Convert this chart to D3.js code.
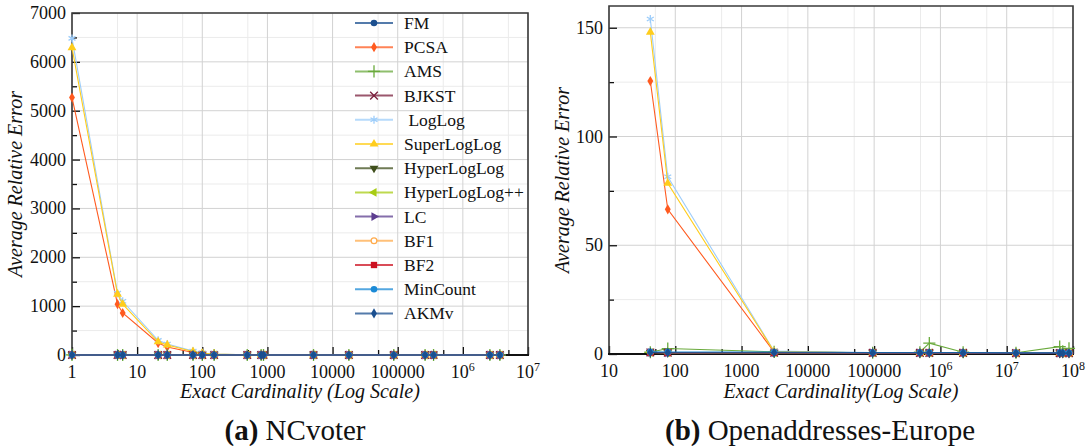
<!DOCTYPE html>
<html>
<head>
<meta charset="utf-8">
<script src="https://cdn.jsdelivr.net/npm/d3@7"></script>
<style>
  body { margin: 0; background: #fff; }
  text { font-family: "Liberation Serif", "Times New Roman", serif; fill: #111; }
</style>
</head>
<body>
<svg id="canvas" width="1091" height="446"></svg>
<script>

// ---- data: NCvoter (left) ----
var ncX        = [1, 5, 6, 21, 29, 72, 100, 152, 490, 800, 870, 5100, 17800, 87000, 263000, 355000, 2600000, 3700000];
var ncPCSA     = [5270, 1040, 860, 245, 165, 50, 25, 15, 4, 2, 2, 1, 1, 1, 1, 1, 1, 1];
var ncLogLog   = [6480, 1265, 1100, 300, 225, 80, 40, 22, 6, 3, 3, 1, 1, 1, 1, 1, 1, 1];
var ncSuperLL  = [6290, 1245, 1040, 270, 205, 70, 35, 18, 5, 3, 2, 1, 1, 1, 1, 1, 1, 1];
var ncSmall    = [1.5, 1.2, 1.1, 0.9, 0.8, 0.6, 0.5, 0.5, 0.4, 0.3, 0.3, 0.3, 0.2, 0.2, 0.2, 0.2, 0.1, 0.1];

// ---- data: Openaddresses-Europe (right) ----
var oaX        = [42, 77, 3100, 95000, 490000, 680000, 2200000, 13800000, 63000000, 70000000, 87000000];
var oaPCSA     = [125.5, 66.5, 0.9, 0.5, 0.5, 0.5, 0.4, 0.4, 0.3, 0.3, 0.3];
var oaLogLog   = [154, 81.5, 1.3, 0.6, 0.5, 0.5, 0.5, 0.4, 0.4, 0.4, 0.4];
var oaSuperLL  = [148, 78.5, 1.1, 0.5, 0.5, 0.5, 0.4, 0.4, 0.3, 0.3, 0.3];
var oaAMS      = [0.8, 2.5, 1.0, 0.6, 0.8, 5.0, 0.8, 0.6, 3.4, 1.2, 2.6];
var oaMinCount = [1.0, 0.9, 0.9, 0.7, 0.7, 0.7, 0.7, 0.6, 0.6, 0.6, 0.6];
var oaSmall    = [0.7, 0.6, 0.6, 0.5, 0.5, 0.5, 0.5, 0.4, 0.4, 0.4, 0.4];

var names  = ["FM", "PCSA", "AMS", "BJKST", " LogLog", "SuperLogLog", "HyperLogLog",
              "HyperLogLog++", "LC", "BF1", "BF2", "MinCount", "AKMv"];
var colors = ["#1b4f8f", "#ff5a1f", "#6aaa3c", "#7a1f3c", "#9dcdfa", "#ffcd1c", "#3f4f1c",
              "#a8cc14", "#5c3d8f", "#ffab4c", "#cc1020", "#1b8ad6", "#1b4f8f"];
var shapes = ["circle", "diamond", "plus", "times", "asterisk", "triUp", "triDown",
              "triLeft", "triRight", "ring", "square", "circle", "diamond"];

var ncSeries = [ncSmall, ncPCSA, ncSmall, ncSmall, ncLogLog, ncSuperLL, ncSmall,
                ncSmall, ncSmall, ncSmall, ncSmall, ncSmall, ncSmall];
var oaSeries = [oaSmall, oaPCSA, oaAMS, oaSmall, oaLogLog, oaSuperLL, oaSmall,
                oaSmall, oaSmall, oaSmall, oaSmall, oaMinCount, oaSmall];

var svg = d3.select("#canvas");

function marker(g, shape, color, x, y) {
  var sym, rot = 0, fill = color, stroke = "none", size = 34;
  if (shape == "circle") sym = d3.symbolCircle;
  if (shape == "ring") { sym = d3.symbolCircle; fill = "#fff"; stroke = color; size = 26; }
  if (shape == "diamond") { sym = d3.symbolDiamond; size = 30; }
  if (shape == "square") { sym = d3.symbolSquare; size = 40; }
  if (shape == "plus") { sym = d3.symbolPlus; fill = "none"; stroke = color; size = 50; }
  if (shape == "times") { sym = d3.symbolTimes; fill = "none"; stroke = color; size = 40; }
  if (shape == "asterisk") { sym = d3.symbolAsterisk; fill = "none"; stroke = color; size = 45; }
  if (shape.indexOf("tri") == 0) {
    sym = d3.symbolTriangle; size = 34;
    rot = {triUp: 0, triDown: 180, triLeft: -90, triRight: 90}[shape];
  }
  g.append("path")
    .attr("d", d3.symbol().type(sym).size(size)())
    .attr("transform", "translate(" + x + "," + y + ") rotate(" + rot + ")")
    .attr("fill", fill)
    .attr("stroke", stroke)
    .attr("stroke-width", stroke == "none" ? 0 : 1.3);
}

function supLabel(sel, exp) {
  if (exp <= 5) sel.text(String(Math.pow(10, exp)));
  else {
    sel.append("tspan").text("10");
    sel.append("tspan").attr("dy", -7).attr("font-size", 12).text(exp);
  }
}

function drawPanel(opt) {
  var x = d3.scaleLog().domain(opt.xDomain).range([opt.left, opt.right]);
  var y = d3.scaleLinear().domain(opt.yDomain).range([opt.bottom, opt.top]);
  var g = svg.append("g");

  var e0 = Math.round(Math.log10(opt.xDomain[0])), e1 = Math.round(Math.log10(opt.xDomain[1]));
  var xMajor = d3.range(e0, e1 + 1).map(function(e) { return Math.pow(10, e); });
  var xMinor = d3.range(e0, e1).map(function(e) { return 5 * Math.pow(10, e); });
  var yMajor = d3.range(opt.yDomain[0], opt.yDomain[1] + 1, opt.yStep);
  var yMinor = d3.range(opt.yDomain[0] + opt.yStep / 2, opt.yDomain[1], opt.yStep);

  // grid
  g.selectAll(".vminor").data(xMinor).enter().append("line")
    .attr("x1", x).attr("x2", x).attr("y1", opt.top).attr("y2", opt.bottom)
    .attr("stroke", "#ebebeb");
  g.selectAll(".hminor").data(yMinor).enter().append("line")
    .attr("y1", y).attr("y2", y).attr("x1", opt.left).attr("x2", opt.right)
    .attr("stroke", "#ebebeb");
  g.selectAll(".vmajor").data(xMajor).enter().append("line")
    .attr("x1", x).attr("x2", x).attr("y1", opt.top).attr("y2", opt.bottom)
    .attr("stroke", "#d2d2d2");
  g.selectAll(".hmajor").data(yMajor).enter().append("line")
    .attr("y1", y).attr("y2", y).attr("x1", opt.left).attr("x2", opt.right)
    .attr("stroke", "#d2d2d2");

  // inward ticks
  g.append("g").attr("transform", "translate(0," + opt.bottom + ")")
    .call(d3.axisBottom(x).tickValues(xMajor).tickSize(-8).tickFormat(""))
    .call(function(a) { a.select(".domain").remove(); });
  g.append("g").attr("transform", "translate(0," + opt.bottom + ")")
    .call(d3.axisBottom(x).tickValues(xMinor).tickSize(-5).tickFormat(""))
    .call(function(a) { a.select(".domain").remove(); });
  g.append("g").attr("transform", "translate(" + opt.left + ",0)")
    .call(d3.axisLeft(y).tickValues(yMajor).tickSize(-8).tickFormat(""))
    .call(function(a) { a.select(".domain").remove(); });
  g.append("g").attr("transform", "translate(" + opt.left + ",0)")
    .call(d3.axisLeft(y).tickValues(yMinor).tickSize(-5).tickFormat(""))
    .call(function(a) { a.select(".domain").remove(); });
  g.selectAll(".tick line").attr("stroke", "#111").attr("stroke-width", 1.3);

  // frame
  g.append("path")
    .attr("d", "M" + opt.left + "," + opt.bottom + "V" + opt.top + "H" + opt.right + "V" + opt.bottom)
    .attr("fill", "none").attr("stroke", "#3a3a3a").attr("stroke-width", 1.6);
  g.append("line")
    .attr("x1", opt.left - 1).attr("x2", opt.right + 1).attr("y1", opt.bottom).attr("y2", opt.bottom)
    .attr("stroke", "#111").attr("stroke-width", 2);

  // tick labels
  xMajor.forEach(function(v, i) {
    var t = g.append("text").attr("x", x(v)).attr("y", opt.bottom + 23)
      .attr("text-anchor", "middle").attr("font-size", 18);
    supLabel(t, e0 + i);
  });
  g.selectAll(".ylab").data(yMajor).enter().append("text")
    .attr("x", opt.left - 6).attr("y", function(d) { return y(d) + 6; })
    .attr("text-anchor", "end").attr("font-size", 18)
    .text(function(d) { return d; });

  // axis titles
  g.append("text").attr("x", (opt.left + opt.right) / 2).attr("y", 398)
    .attr("text-anchor", "middle").attr("font-size", 20).attr("font-style", "italic")
    .text(opt.xTitle);
  g.append("text")
    .attr("transform", "translate(" + opt.yTitleX + "," + ((opt.top + opt.bottom) / 2) + ") rotate(-90)")
    .attr("text-anchor", "middle").attr("font-size", 20).attr("font-style", "italic")
    .text("Average Relative Error");

  // series
  var line = d3.line().x(function(d) { return x(d[0]); }).y(function(d) { return y(d[1]); });
  opt.series.forEach(function(vals, s) {
    var pts = opt.xs.map(function(v, i) { return [v, vals[i]]; });
    g.append("path").datum(pts).attr("d", line)
      .attr("fill", "none").attr("stroke", colors[s]).attr("stroke-width", 1.1);
    pts.forEach(function(p) { marker(g, shapes[s], colors[s], x(p[0]), y(p[1])); });
  });

  // caption
  var cap = svg.append("text").attr("x", opt.capX).attr("y", 440)
    .attr("text-anchor", "middle").attr("font-size", 29);
  cap.append("tspan").attr("font-weight", "bold").text(opt.capA);
  cap.append("tspan").text(" " + opt.capB);
  return g;
}

var left = drawPanel({
  left: 72, right: 528, top: 13, bottom: 355,
  xDomain: [1, 1e7], yDomain: [0, 7000], yStep: 1000,
  xs: ncX, series: ncSeries,
  xTitle: "Exact Cardinality (Log Scale)", yTitleX: 22,
  capX: 295, capA: "(a)", capB: "NCvoter"
});

drawPanel({
  left: 609, right: 1073, top: 6, bottom: 354,
  xDomain: [10, 1e8], yDomain: [0, 160], yStep: 50,
  xs: oaX, series: oaSeries,
  xTitle: "Exact Cardinality(Log Scale)", yTitleX: 569,
  capX: 820, capA: "(b)", capB: "Openaddresses-Europe"
});

// legend (left panel, no background)
var leg = left.append("g");
names.forEach(function(n, i) {
  var yy = 23 + i * 24.2;
  leg.append("line").attr("x1", 355).attr("x2", 393).attr("y1", yy).attr("y2", yy)
    .attr("stroke", colors[i]).attr("stroke-width", 2).attr("stroke-opacity", 0.75);
  marker(leg, shapes[i], colors[i], 374, yy);
  leg.append("text").attr("x", 404).attr("y", yy + 6).attr("font-size", 17.5)
    .style("white-space", "pre").text(n);
});

</script>
</body>
</html>
